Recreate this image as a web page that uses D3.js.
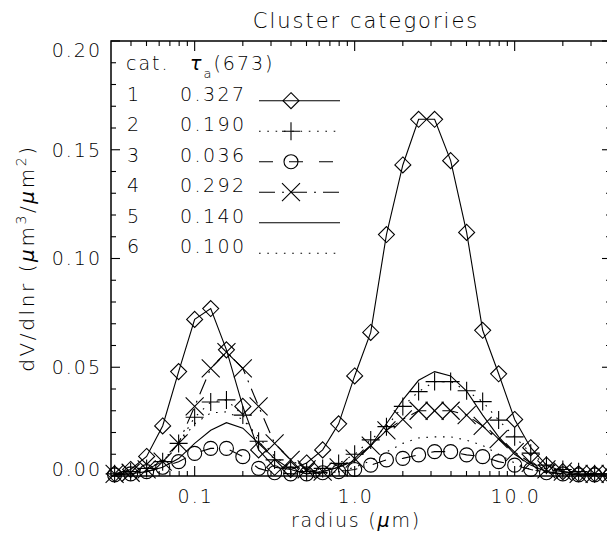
<!DOCTYPE html>
<html>
<head>
<meta charset="utf-8">
<script src="https://cdn.jsdelivr.net/npm/d3@7"></script>
<style>
body { margin: 0; background: #fff; }
svg text { font-family: "DejaVu Sans", sans-serif; font-weight: 200; fill: #000; }
</style>
</head>
<body>
<div id="chart"></div>
<script>
// radius grid (um), 10 steps per decade
var radius = [0.0316, 0.0398, 0.0501, 0.0631, 0.0794, 0.1, 0.126, 0.158, 0.2, 0.251,
              0.316, 0.398, 0.501, 0.631, 0.794, 1.0, 1.26, 1.58, 2.0, 2.51,
              3.16, 3.98, 5.01, 6.31, 7.94, 10.0, 12.6, 15.8, 20.0, 25.1, 31.6, 39.8];

// dV/dlnr for each cluster category
var cat1 = [0.001, 0.003, 0.009, 0.023, 0.048, 0.072, 0.077, 0.058, 0.032, 0.012,
            0.004, 0.003, 0.006, 0.012, 0.024, 0.046, 0.066, 0.111, 0.143, 0.164,
            0.164, 0.145, 0.112, 0.067, 0.047, 0.026, 0.013, 0.005, 0.002, 0.001, 0.001, 0.001];
var cat2 = [0.001, 0.002, 0.0035, 0.0066, 0.015, 0.027, 0.034, 0.035, 0.028, 0.016,
            0.0074, 0.004, 0.002, 0.0035, 0.0058, 0.010, 0.0166, 0.0227, 0.032, 0.0388,
            0.0434, 0.0434, 0.0392, 0.0342, 0.0257, 0.018, 0.0105, 0.005, 0.003, 0.002, 0.001, 0.001];
var cat3 = [0.0005, 0.001, 0.002, 0.004, 0.0066, 0.0104, 0.0127, 0.0127, 0.0089, 0.0035,
            0.0015, 0.001, 0.001, 0.0015, 0.002, 0.003, 0.005, 0.0074, 0.0081, 0.0097,
            0.0112, 0.0112, 0.0097, 0.0089, 0.0066, 0.005, 0.003, 0.0015, 0.001, 0.0005, 0.0005, 0.0005];
var cat4 = [0.001, 0.0015, 0.003, 0.0066, 0.015, 0.032, 0.0495, 0.057, 0.0495, 0.032,
            0.015, 0.0074, 0.003, 0.002, 0.004, 0.008, 0.014, 0.021, 0.026, 0.030,
            0.030, 0.030, 0.028, 0.023, 0.017, 0.011, 0.006, 0.003, 0.002, 0.001, 0.001, 0.001];
var cat5 = [0.0005, 0.001, 0.002, 0.004, 0.008, 0.015, 0.021, 0.0245, 0.022, 0.015,
            0.008, 0.003, 0.001, 0.002, 0.004, 0.007, 0.014, 0.024, 0.035, 0.044,
            0.048, 0.046, 0.039, 0.028, 0.018, 0.010, 0.005, 0.002, 0.001, 0.0005, 0.0005, 0.0005];
var cat6 = [0.0005, 0.001, 0.003, 0.007, 0.015, 0.024, 0.029, 0.0295, 0.026, 0.018,
            0.009, 0.004, 0.0015, 0.001, 0.002, 0.004, 0.007, 0.011, 0.015, 0.0175,
            0.018, 0.018, 0.0165, 0.014, 0.010, 0.006, 0.003, 0.0015, 0.001, 0.0005, 0.0005, 0.0005];

var catNames = ["1", "2", "3", "4", "5", "6"];
var tauValues = ["0.327", "0.190", "0.036", "0.292", "0.140", "0.100"];

var xMajor = [0.1, 1, 10];
var xMajorLabels = ["0.1", "1.0", "10.0"];
var yMajor = [0, 0.05, 0.10, 0.15, 0.20];

function drawChart() {

var svgW = 607, svgH = 548;
var pLeft = 111, pRight = 611, pTop = 41, pBottom = 476;

var x = d3.scaleLog().domain([0.03, 40]).range([pLeft, pRight]);
var y = d3.scaleLinear().domain([0, 0.20]).range([pBottom, pTop]);

// line styles + symbols per category
var styles = [
  {data: cat1, dash: null,          sym: "diamond"},
  {data: cat2, dash: "1.6,6.7",     sym: "plus"},
  {data: cat3, dash: "14,16",       sym: "circle"},
  {data: cat4, dash: "16,7,2,7",    sym: "cross"},
  {data: cat5, dash: null,          sym: null},
  {data: cat6, dash: "1.6,6.7",     sym: null}
];

var svg = d3.select("#chart").append("svg")
    .attr("width", svgW)
    .attr("height", svgH);

svg.append("rect").attr("width", svgW).attr("height", svgH).attr("fill", "#fff");

function drawSymbol(g, type, cx, cy) {
  if (type === "diamond") {
    g.append("path").attr("d", "M" + cx + "," + (cy - 8) + "L" + (cx + 8) + "," + cy +
        "L" + cx + "," + (cy + 8) + "L" + (cx - 8) + "," + cy + "Z");
  } else if (type === "plus") {
    g.append("path").attr("d", "M" + (cx - 9) + "," + cy + "H" + (cx + 9) +
        "M" + cx + "," + (cy - 9) + "V" + (cy + 9));
  } else if (type === "circle") {
    g.append("circle").attr("cx", cx).attr("cy", cy).attr("r", 7);
  } else if (type === "cross") {
    g.append("path").attr("d", "M" + (cx - 9) + "," + (cy - 9) + "L" + (cx + 9) + "," + (cy + 9) +
        "M" + (cx - 9) + "," + (cy + 9) + "L" + (cx + 9) + "," + (cy - 9));
  }
}

// curves
var line = d3.line()
    .x(function(d, i) { return x(radius[i]); })
    .y(function(d) { return y(d); });

styles.forEach(function(s) {
  svg.append("path")
      .datum(s.data)
      .attr("fill", "none")
      .attr("stroke", "#000")
      .attr("stroke-width", 1.1)
      .attr("stroke-dasharray", s.dash)
      .attr("d", line);
  if (s.sym) {
    var g = svg.append("g").attr("fill", "none").attr("stroke", "#000").attr("stroke-width", 1.1);
    s.data.forEach(function(v, i) { drawSymbol(g, s.sym, x(radius[i]), y(v)); });
  }
});

// frame
svg.append("rect")
    .attr("x", pLeft).attr("y", pTop)
    .attr("width", pRight - pLeft).attr("height", pBottom - pTop)
    .attr("fill", "none").attr("stroke", "#000").attr("stroke-width", 1.5);

// x minor ticks
var xMinor = [];
[0.01, 0.1, 1, 10].forEach(function(dec) {
  for (var m = 2; m <= 9; m++) {
    var v = m * dec;
    if (v > 0.03 && v < 40) xMinor.push(v);
  }
});

var axes = svg.append("g").attr("stroke", "#000").attr("stroke-width", 1.1);
xMinor.forEach(function(v) {
  axes.append("line").attr("x1", x(v)).attr("x2", x(v)).attr("y1", pBottom).attr("y2", pBottom - 5);
  axes.append("line").attr("x1", x(v)).attr("x2", x(v)).attr("y1", pTop).attr("y2", pTop + 5);
});
xMajor.forEach(function(v) {
  axes.append("line").attr("x1", x(v)).attr("x2", x(v)).attr("y1", pBottom).attr("y2", pBottom - 10);
  axes.append("line").attr("x1", x(v)).attr("x2", x(v)).attr("y1", pTop).attr("y2", pTop + 10);
});

// y ticks (minor every 0.01)
d3.range(0, 21).forEach(function(k) {
  var v = k / 100;
  var len = (k % 5 === 0) ? 9 : 5;
  axes.append("line").attr("x1", pLeft).attr("x2", pLeft + len).attr("y1", y(v)).attr("y2", y(v));
  axes.append("line").attr("x1", pRight).attr("x2", pRight - len).attr("y1", y(v)).attr("y2", y(v));
});

// tick labels
svg.append("g").selectAll("text")
    .data(xMajor)
    .enter().append("text")
    .attr("x", function(d) { return x(d) + 1; })
    .attr("y", 503)
    .attr("text-anchor", "middle")
    .style("font-size", "19px")
    .style("letter-spacing", "2px")
    .text(function(d, i) { return xMajorLabels[i]; });

svg.append("g").selectAll("text")
    .data(yMajor)
    .enter().append("text")
    .attr("x", 102)
    .attr("y", function(d) { return Math.max(pTop + 9, Math.min(y(d), pBottom - 7)); })
    .attr("dy", "0.36em")
    .attr("text-anchor", "end")
    .style("font-size", "19px")
    .style("letter-spacing", "2px")
    .text(function(d) { return d3.format(".2f")(d); });

// titles
svg.append("text")
    .attr("x", 366).attr("y", 28)
    .attr("text-anchor", "middle")
    .style("font-size", "21px")
    .style("letter-spacing", "2px")
    .text("Cluster categories");

var xt = svg.append("text")
    .attr("x", 356).attr("y", 527)
    .attr("text-anchor", "middle")
    .style("font-size", "19px")
    .style("letter-spacing", "1.8px");
xt.append("tspan").text("radius (");
xt.append("tspan").style("font-style", "italic").text("\u03bc");
xt.append("tspan").text("m)");

var yt = svg.append("text")
    .attr("transform", "translate(34,258) rotate(-90)")
    .attr("text-anchor", "middle")
    .style("font-size", "20px")
    .style("letter-spacing", "2.6px");
yt.append("tspan").text("dV/dlnr (");
yt.append("tspan").style("font-style", "italic").text("\u03bc");
yt.append("tspan").text("m");
yt.append("tspan").attr("baseline-shift", "super").style("font-size", "14px").text("3");
yt.append("tspan").text("/");
yt.append("tspan").style("font-style", "italic").text("\u03bc");
yt.append("tspan").text("m");
yt.append("tspan").attr("baseline-shift", "super").style("font-size", "14px").text("2");
yt.append("tspan").text(")");

// legend
var lg = svg.append("g");
var head = lg.append("text").attr("x", 126).attr("y", 70)
    .style("font-size", "19px").style("letter-spacing", "2px");
head.append("tspan").text("cat. ");
head.append("tspan").attr("x", 190).style("font-style", "italic").text("\u03c4");
head.append("tspan").attr("baseline-shift", "sub").style("font-size", "13px").text("a");
head.append("tspan").text("(673)");

var rowY = d3.scaleLinear().domain([0, 1]).range([100.7, 131.2]);
styles.forEach(function(s, i) {
  var ry = rowY(i);
  lg.append("text").attr("x", 127).attr("y", ry)
      .style("font-size", "19px").style("letter-spacing", "2px").text(catNames[i]);
  lg.append("text").attr("x", 180).attr("y", ry)
      .style("font-size", "19px").style("letter-spacing", "2.4px").text(tauValues[i]);
  lg.append("line")
      .attr("x1", 259).attr("x2", 340).attr("y1", ry).attr("y2", ry)
      .attr("stroke", "#000").attr("stroke-width", 1.1)
      .attr("stroke-dasharray", s.dash);
  if (s.sym) {
    var g = lg.append("g").attr("fill", "none").attr("stroke", "#000").attr("stroke-width", 1.1);
    drawSymbol(g, s.sym, 291, ry);
  }
});

}

drawChart();
</script>
</body>
</html>
